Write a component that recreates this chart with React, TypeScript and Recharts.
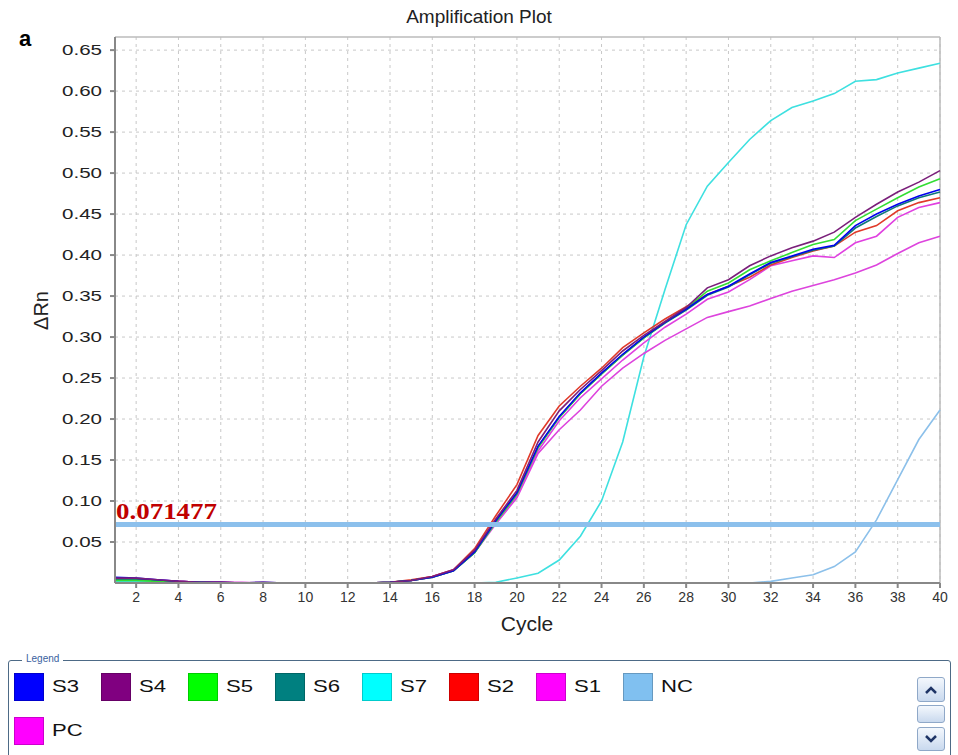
import React from 'react';
import { LineChart, Line, XAxis, YAxis, CartesianGrid, ReferenceLine } from 'recharts';

const cycles = [1, 2, 3, 4, 5, 6, 7, 8, 9, 10, 11, 12, 13, 14, 15, 16, 17, 18, 19, 20, 21, 22, 23, 24, 25, 26, 27, 28, 29, 30, 31, 32, 33, 34, 35, 36, 37, 38, 39, 40];

const s3 = [0.007, 0.006, 0.004, 0.002, 0.001, 0.001, 0.0, 0.001, 0.0, 0.0, 0.0, 0.0, 0.0, 0.001, 0.003, 0.007, 0.015, 0.038, 0.076, 0.110, 0.167, 0.203, 0.232, 0.256, 0.279, 0.300, 0.318, 0.334, 0.352, 0.362, 0.377, 0.391, 0.399, 0.407, 0.412, 0.436, 0.450, 0.462, 0.472, 0.480];
const s4 = [0.006, 0.006, 0.004, 0.002, 0.001, 0.001, 0.0, 0.001, 0.0, 0.0, 0.0, 0.0, 0.0, 0.001, 0.003, 0.008, 0.016, 0.040, 0.078, 0.113, 0.172, 0.210, 0.236, 0.259, 0.283, 0.302, 0.319, 0.336, 0.360, 0.370, 0.387, 0.399, 0.409, 0.417, 0.428, 0.446, 0.462, 0.477, 0.489, 0.503];
const s5 = [0.003, 0.003, 0.002, 0.001, 0.001, 0.0, 0.0, 0.0, 0.0, 0.0, 0.0, 0.0, 0.0, 0.001, 0.003, 0.007, 0.015, 0.037, 0.074, 0.108, 0.165, 0.202, 0.231, 0.255, 0.278, 0.299, 0.318, 0.335, 0.356, 0.366, 0.382, 0.393, 0.403, 0.413, 0.419, 0.442, 0.456, 0.470, 0.483, 0.493];
const s6 = [0.004, 0.004, 0.003, 0.001, 0.001, 0.0, 0.0, 0.0, 0.0, 0.0, 0.0, 0.0, 0.0, 0.001, 0.003, 0.007, 0.015, 0.037, 0.075, 0.109, 0.166, 0.202, 0.231, 0.255, 0.278, 0.299, 0.317, 0.333, 0.351, 0.361, 0.376, 0.390, 0.398, 0.406, 0.411, 0.433, 0.447, 0.460, 0.470, 0.477];
const s7 = [0.002, 0.002, 0.001, 0.001, 0.0, 0.0, 0.0, 0.0, 0.0, 0.0, 0.0, 0.0, 0.0, 0.0, 0.0, 0.0, 0.0, 0.0, 0.001, 0.006, 0.012, 0.028, 0.057, 0.100, 0.172, 0.276, 0.358, 0.437, 0.484, 0.513, 0.541, 0.564, 0.580, 0.588, 0.597, 0.612, 0.614, 0.622, 0.628, 0.634];
const s2 = [0.005, 0.005, 0.003, 0.002, 0.001, 0.001, 0.0, 0.0, 0.0, 0.0, 0.0, 0.0, 0.0, 0.001, 0.004, 0.008, 0.016, 0.042, 0.082, 0.120, 0.180, 0.216, 0.240, 0.262, 0.287, 0.305, 0.322, 0.337, 0.352, 0.362, 0.373, 0.388, 0.397, 0.405, 0.411, 0.428, 0.436, 0.454, 0.464, 0.470];
const s1 = [0.006, 0.005, 0.004, 0.002, 0.001, 0.001, 0.001, 0.0, 0.0, 0.0, 0.0, 0.0, 0.0, 0.001, 0.003, 0.007, 0.015, 0.037, 0.072, 0.104, 0.158, 0.187, 0.211, 0.240, 0.262, 0.280, 0.296, 0.310, 0.324, 0.331, 0.338, 0.347, 0.356, 0.363, 0.370, 0.378, 0.388, 0.402, 0.415, 0.423];
const nc = [0.0, 0.0, 0.0, 0.0, 0.0, 0.0, 0.0, 0.0, 0.0, 0.0, 0.0, 0.0, 0.0, 0.0, 0.0, 0.0, 0.0, 0.0, 0.0, 0.0, 0.0, 0.0, 0.0, 0.0, 0.0, 0.0, 0.0, 0.0, 0.0, 0.0, 0.0, 0.002, 0.006, 0.010, 0.020, 0.038, 0.077, 0.126, 0.175, 0.211];
const pc = [0.005, 0.004, 0.003, 0.002, 0.001, 0.001, 0.0, 0.0, 0.0, 0.0, 0.0, 0.0, 0.0, 0.001, 0.003, 0.008, 0.016, 0.039, 0.073, 0.106, 0.161, 0.198, 0.226, 0.249, 0.272, 0.293, 0.312, 0.328, 0.346, 0.355, 0.370, 0.387, 0.393, 0.399, 0.397, 0.415, 0.423, 0.446, 0.458, 0.464];

const xTicks = [2, 4, 6, 8, 10, 12, 14, 16, 18, 20, 22, 24, 26, 28, 30, 32, 34, 36, 38, 40];
const yTicks = [0.05, 0.1, 0.15, 0.2, 0.25, 0.3, 0.35, 0.4, 0.45, 0.5, 0.55, 0.6, 0.65];
const threshold = 0.071477;
const yMax = 0.666;

// legend order, as in the instrument software
const series = [
  { key: 'S3', values: s3, color: '#0000ff' },
  { key: 'S4', values: s4, color: '#800080' },
  { key: 'S5', values: s5, color: '#00ff00' },
  { key: 'S6', values: s6, color: '#008080' },
  { key: 'S7', values: s7, color: '#00ffff' },
  { key: 'S2', values: s2, color: '#ff0000' },
  { key: 'S1', values: s1, color: '#ff00ff' },
  { key: 'NC', values: nc, color: '#80c0f0' },
  { key: 'PC', values: pc, color: '#ff00ff' },
];

const lineColors: Record<string, string> = {
  S3: '#0000ee', S4: '#7a1f7a', S5: '#33dd33', S6: '#107878', S7: '#3ee0e0',
  S2: '#e03a2a', S1: '#dd44dd', NC: '#8cc0ea', PC: '#e040e0',
};

const drawOrder = ['NC', 'S7', 'S1', 'PC', 'S2', 'S6', 'S5', 'S3', 'S4'];

const data = cycles.map((c, i) => {
  const row: Record<string, number> = { cycle: c };
  series.forEach((s) => { row[s.key] = s.values[i]; });
  return row;
});

const font = 'Arial, "Liberation Sans", sans-serif';

function ThresholdLabel(props: any) {
  const { viewBox } = props;
  return (
    <text x={viewBox.x + 1} y={viewBox.y - 5} fill="#c00000" fontFamily='"Liberation Serif", "DejaVu Serif", serif' fontWeight="bold" fontSize={23} textLength={101} lengthAdjust="spacingAndGlyphs">
      {threshold.toFixed(6)}
    </text>
  );
}

// the source image is a bit stretched sideways, so widen the glyphs
function YTick(props: any) {
  const { x, y, payload } = props;
  return (
    <text x={x - 41} y={y} dy={5} fill="#222" fontFamily={font} fontSize={15} textLength={40} lengthAdjust="spacingAndGlyphs">
      {Number(payload.value).toFixed(2)}
    </text>
  );
}

function ScrollButton({ top, height, dir }: { top: number; height: number; dir?: 'up' | 'down' }) {
  return (
    <div style={{ position: 'absolute', left: 917, top, width: 28, height, border: '1px solid #8fa8c8', borderRadius: 3, background: 'linear-gradient(#f4f8fd, #c9d9ee)', boxSizing: 'border-box', display: 'flex', alignItems: 'center', justifyContent: 'center' }}>
      {dir && (
        <svg width={14} height={10}>
          <polyline points={dir === 'up' ? '2,8 7,3 12,8' : '2,2 7,7 12,2'} fill="none" stroke="#1f3566" strokeWidth={2.5} />
        </svg>
      )}
    </div>
  );
}

export default function App() {
  return (
    <div style={{ position: 'absolute', left: 0, top: 0, width: 958, height: 755, background: '#fff', overflow: 'hidden', fontFamily: font }}>
      <div style={{ position: 'absolute', left: 0, top: 6, width: 958, textAlign: 'center', fontSize: 19, color: '#222' }}>Amplification Plot</div>
      <div style={{ position: 'absolute', left: 19, top: 26, fontSize: 22, fontWeight: 'bold', color: '#000' }}>a</div>
      <div style={{ position: 'absolute', left: 16, top: 299, width: 50, textAlign: 'center', transform: 'rotate(-90deg)', fontSize: 20, color: '#222' }}>ΔRn</div>
      <div style={{ position: 'absolute', left: 477, top: 612, width: 100, textAlign: 'center', fontSize: 21, color: '#222' }}>Cycle</div>

      <LineChart width={958} height={640} data={data} margin={{ top: 37, right: 18, left: 0, bottom: 27 }}>
        <CartesianGrid stroke="#c8c8c8" strokeDasharray="3 4" horizontalValues={yTicks} verticalValues={xTicks} />
        <XAxis
          dataKey="cycle"
          type="number"
          domain={[1, 40]}
          ticks={xTicks}
          interval={0}
          height={30}
          tickSize={5}
          tickMargin={4}
          stroke="#888"
          strokeWidth={2}
          tick={{ fill: '#333', fontSize: 14, fontFamily: font }}
        />
        <YAxis
          type="number"
          domain={[0, yMax]}
          ticks={yTicks}
          interval={0}
          width={115}
          tickSize={5}
          tickMargin={7}
          stroke="#888"
          strokeWidth={2}
          tick={<YTick />}
        />
        <ReferenceLine y={yMax} stroke="#bbbbbb" strokeWidth={1.5} />
        <ReferenceLine x={40} stroke="#bbbbbb" strokeWidth={1.5} />
        {drawOrder.map((k) => (
          <Line key={k} type="linear" dataKey={k} stroke={lineColors[k]} strokeWidth={1.6} dot={false} isAnimationActive={false} />
        ))}
        <ReferenceLine y={threshold} stroke="#8cc0ec" strokeWidth={5} label={<ThresholdLabel />} />
      </LineChart>

      <div style={{ position: 'absolute', left: 8, top: 660, width: 943, height: 110, border: '1.5px solid #4d6a86', borderRadius: 3, boxSizing: 'border-box' }} />
      <div style={{ position: 'absolute', left: 22, top: 653, padding: '0 4px', background: '#fff', fontSize: 10, color: '#3a5fa0' }}>Legend</div>
      <div style={{ position: 'absolute', left: 14, top: 673, width: 720, display: 'flex', flexWrap: 'wrap', rowGap: 16 }}>
        {series.map((s) => (
          <div key={s.key} style={{ display: 'flex', alignItems: 'center', width: 87, height: 28 }}>
            <div style={{ width: 30, height: 28, flex: 'none', background: s.color, border: '1px solid rgba(0,0,0,0.2)', boxSizing: 'border-box' }} />
            <span style={{ marginLeft: 8, fontSize: 17, color: '#111', display: 'inline-block', transform: 'scaleX(1.3)', transformOrigin: 'left center' }}>{s.key}</span>
          </div>
        ))}
      </div>
      <ScrollButton top={677} height={25} dir="up" />
      <ScrollButton top={705} height={18} />
      <ScrollButton top={727} height={24} dir="down" />
    </div>
  );
}
